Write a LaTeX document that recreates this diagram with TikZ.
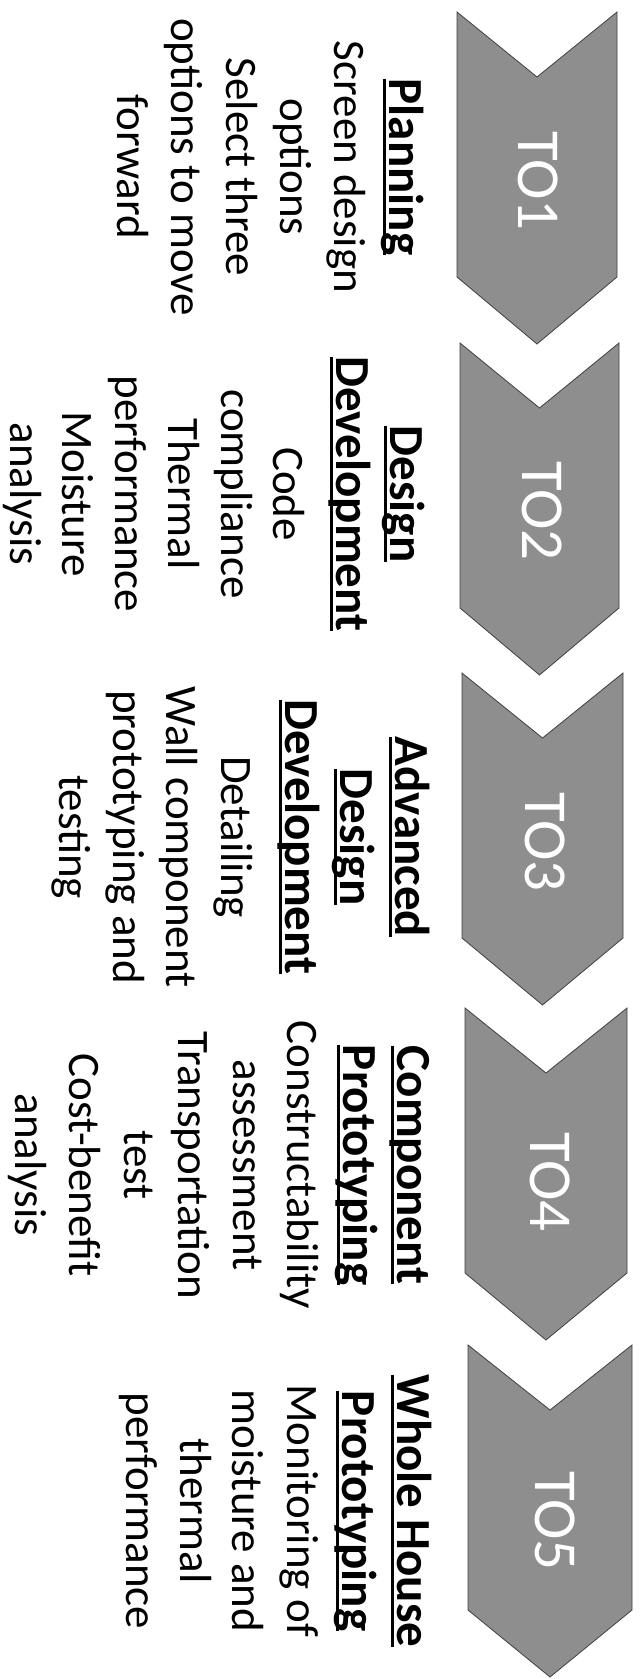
\documentclass[tikz,border=0pt]{standalone}
\usepackage{fontspec}
\setmainfont{Carlito}
\definecolor{chevgray}{RGB}{142,142,142}
\newcommand\myul[1]{\setbox0=\hbox{#1}\rlap{\rule[-0.12em]{\wd0}{0.055em}}\box0}
\newcommand\mychev[3]{%
  \path[chev] (#1,#3) -- ({(#1+#2)/2},#3+65) -- (#2,#3) -- (#2,#3+265)
    -- ({(#1+#2)/2},#3+332) -- (#1,#3+265) -- cycle;}
\tikzset{
  chev/.style={fill=chevgray, draw=black!75, line width=0.8pt},
  lab/.style={rotate=-90, anchor=base, inner sep=0pt, text=white,
              font=\fontsize{61}{61}\selectfont},
  hd/.style={rotate=-90, anchor=base, inner sep=0pt,
             font=\fontsize{49}{54}\selectfont\bfseries},
  bd/.style={rotate=-90, anchor=base, inner sep=0pt,
             font=\fontsize{45}{54}\selectfont},
}
\begin{document}
\begin{tikzpicture}[x=1pt,y=-1pt]
\useasboundingbox (0,0) rectangle (640,1679);
% chevrons
\mychev{457}{617}{12}
\mychev{460}{619}{343}
\mychev{462}{623}{673}
\mychev{465}{627}{1008}
\mychev{468}{632}{1345}
% labels
\node[lab] (lab1) at (518,181) {TO1};
\node[lab] (lab2) at (522,511) {TO2};
\node[lab] (lab3) at (525,842) {TO3};
\node[lab] (lab4) at (530,1182) {TO4};
\node[lab] (lab5) at (535,1521) {TO5};
% TO1 text
\node[hd] (p1h) at (389,167) {\myul{Planning}};
\node[bd] (p1a) at (334,167) {Screen design};
\node[bd] (p1b) at (280,167) {options};
\node[bd] (p1c) at (226,167) {Select three};
\node[bd] (p1d) at (171,167) {options to move};
\node[bd] (p1e) at (117,167) {forward};
% TO2 text
\node[hd] (p2h) at (390,494) {\myul{Design}};
\node[hd] (p2i) at (336,494) {\myul{Development}};
\node[bd] (p2a) at (273,494) {Code};
\node[bd] (p2b) at (221,494) {compliance};
\node[bd] (p2c) at (168,494) {Thermal};
\node[bd] (p2d) at (115,494) {performance};
\node[bd] (p2e) at (62,494) {Moisture};
\node[bd] (p2f) at (10,494) {analysis};
% TO3 text
\node[hd] (p3h) at (395,837) {\myul{Advanced}};
\node[hd] (p3i) at (340,837) {\myul{Design}};
\node[hd] (p3j) at (285,837) {\myul{Development}};
\node[bd] (p3a) at (221,837) {Detailing};
\node[bd] (p3b) at (166,837) {Wall component};
\node[bd] (p3c) at (113,837) {prototyping and};
\node[bd] (p3d) at (59,837) {testing};
% TO4 text
\node[hd] (p4h) at (397,1165) {\myul{Component}};
\node[hd] (p4i) at (343,1165) {\myul{Prototyping}};
\node[bd] (p4a) at (287,1165) {Constructability};
\node[bd] (p4b) at (233,1165) {assessment};
\node[bd] (p4c) at (178,1165) {Transportation};
\node[bd] (p4d) at (124,1165) {test};
\node[bd] (p4e) at (69,1165) {Cost-benefit};
\node[bd] (p4f) at (15,1165) {analysis};
% TO5 text
\node[hd] (p5h) at (397,1511) {\myul{Whole House}};
\node[hd] (p5i) at (342,1511) {\myul{Prototyping}};
\node[bd] (p5a) at (287,1511) {Monitoring of};
\node[bd] (p5b) at (232,1511) {moisture and};
\node[bd] (p5c) at (180,1511) {thermal};
\node[bd] (p5d) at (126,1511) {performance};
\end{tikzpicture}
\end{document}
